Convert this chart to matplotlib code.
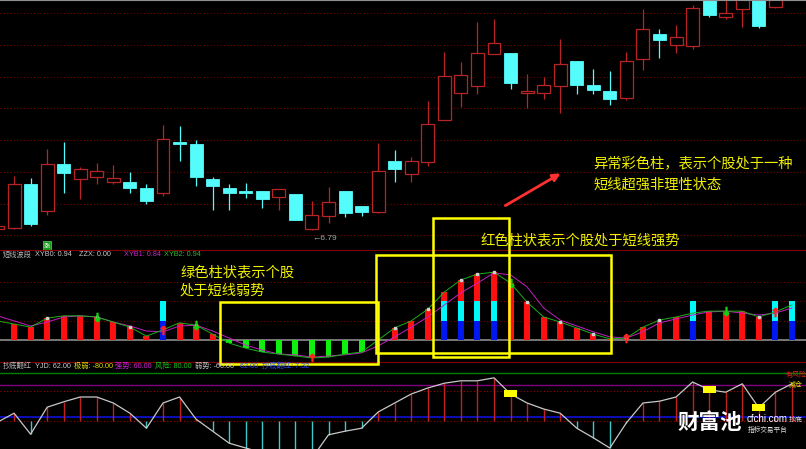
"""短线波段 + 抄底翻红 指标示意图：K线、彩色柱、抄底线，加上黄色说明框。"""

import matplotlib
matplotlib.use("Agg")
import matplotlib.pyplot as plt
from matplotlib.patches import Rectangle, FancyArrowPatch

plt.rcParams["font.family"] = ["Noto Sans CJK SC", "DejaVu Sans"]

W, H = 806, 449          # 输出尺寸 (px)

# ---- K线数据 (每根一组：开、高、低、收)
opens = [6.80, 6.81, 7.25, 6.98, 7.45, 7.30, 7.32, 7.27, 7.27, 7.21,
         7.16, 7.67, 7.65, 7.30, 7.21, 7.18, 7.18, 7.12, 7.15, 6.80,
         6.93, 7.18, 7.03, 6.97, 7.48, 7.35, 7.47, 7.89, 8.16, 8.23,
         8.55, 8.56, 8.16, 8.16, 8.23, 8.48, 8.24, 8.18, 8.11, 8.50,
         8.75, 8.64, 8.63, 9.15, 8.92, 9.00, 9.22, 9.02, 9.30]
highs = [6.83, 7.33, 7.31, 7.60, 7.67, 7.42, 7.46, 7.44, 7.37, 7.25,
         7.84, 7.83, 7.69, 7.32, 7.25, 7.26, 7.18, 7.20, 7.15, 7.08,
         7.22, 7.18, 7.03, 7.66, 7.59, 7.52, 8.08, 8.57, 8.47, 8.87,
         8.90, 8.56, 8.35, 8.32, 8.70, 8.48, 8.40, 8.38, 8.57, 9.00,
         8.80, 8.84, 9.04, 9.20, 9.12, 9.28, 9.30, 9.32, 9.50]
lows = [6.80, 6.80, 6.83, 6.94, 7.16, 7.10, 7.25, 7.25, 7.16, 7.05,
        7.13, 7.48, 7.23, 6.99, 6.99, 7.11, 7.01, 6.99, 6.89, 6.79,
        6.86, 6.92, 6.93, 6.96, 7.27, 7.27, 7.43, 7.89, 8.02, 8.15,
        8.55, 8.20, 8.01, 8.10, 7.96, 8.15, 8.15, 8.04, 8.09, 8.39,
        8.51, 8.56, 8.60, 8.92, 8.90, 8.82, 8.81, 9.01, 9.20]
closes = [6.83, 7.25, 6.85, 7.45, 7.36, 7.40, 7.38, 7.31, 7.21, 7.08,
          7.70, 7.65, 7.32, 7.23, 7.16, 7.16, 7.10, 7.20, 6.89, 6.94,
          7.07, 6.96, 6.97, 7.38, 7.40, 7.48, 7.85, 8.33, 8.34, 8.56,
          8.66, 8.26, 8.18, 8.24, 8.45, 8.24, 8.19, 8.10, 8.48, 8.80,
          8.69, 8.72, 9.01, 8.94, 8.96, 9.20, 8.83, 9.25, 9.45]
price_grid = [6.74, 7.05, 7.37, 7.69, 8.01, 8.32, 8.64, 8.96]
low_label = "←6.79"

# ---- 短线波段：柱 = XYB2 (绿线)，XYB1 (紫线)
xyb2 = [0.49, 0.41, 0.33, 0.56, 0.62, 0.62, 0.59, 0.46, 0.33, 0.10,
        0.26, 0.44, 0.38, 0.15, -0.08, -0.21, -0.31, -0.36, -0.41, -0.46,
        -0.44, -0.36, -0.31, 0.00, 0.31, 0.49, 0.79, 1.23, 1.54, 1.69,
        1.74, 1.46, 0.97, 0.59, 0.46, 0.31, 0.15, 0.03, 0.05, 0.33,
        0.51, 0.59, 0.69, 0.74, 0.74, 0.74, 0.59, 0.72, 0.90]
xyb1 = [0.62, 0.49, 0.36, 0.46, 0.59, 0.62, 0.59, 0.46, 0.36, 0.23,
        0.21, 0.36, 0.38, 0.23, 0.05, -0.13, -0.26, -0.36, -0.38, -0.44,
        -0.41, -0.38, -0.33, -0.15, 0.08, 0.33, 0.59, 0.90, 1.21, 1.46,
        1.72, 1.67, 1.36, 0.82, 0.51, 0.36, 0.21, 0.08, 0.05, 0.21,
        0.44, 0.54, 0.64, 0.72, 0.74, 0.69, 0.64, 0.69, 0.82]
special_idx = [10, 27, 28, 29, 30, 42, 47, 48]     # 异常彩色柱
dot_idx = [3, 6, 8, 12, 24, 26, 28, 29, 30, 32, 34, 36, 38, 40, 46]
down_idx = [6, 12, 31, 44]
up_idx = [10, 19, 38, 47]
wave_grid = [0.5, 1.0, 1.5]
wave_header = [("短线波段", "#b8b8b8"), ("XYB0: 0.94", "#c8c8c8"),
               ("ZZX: 0.00", "#c8c8c8"), ("XYB1: 0.84", "#d020d0"),
               ("XYB2: 0.94", "#20c020")]

# ---- 抄底翻红
yjd = [-2, 13, -22, 23, 32, 40, 40, 30, 13, -12,
       30, 40, 3, -17, -37, -45, -53, -62, -68, -62,
       -23, -17, -12, 15, 30, 45, 55, 63, 67, 67,
       72, 45, 30, 20, 13, -12, -28, -45, -3, 30,
       33, 40, 65, 52, 48, 62, 22, 48, 62]
mark_idx = [31, 43, 46]
risk_level, strong_level, bottom_level = 80, 60, 7.32
yjd_grid = [0, 50]
yjd_header = [("抄底翻红", "#b8b8b8"), ("YJD: 62.00", "#c8c8c8"),
              ("极弱: -80.00", "#e0e000"), ("强势: 60.00", "#d020d0"),
              ("风险: 80.00", "#20c020"), ("弱势: -60.00", "#c8c8c8"),
              ("62.00  抄底翻红: 7.32", "#2848ff")]

RED = "#b82424"
CYAN = "#54fcfc"
YELLOW = "#f0f000"
XLIM = (0.151, 48.852)
SMALL_FONT = ["Liberation Sans", "Noto Sans CJK SC"]


def fx(px):
    return px / W


def fy(py):
    return 1 - py / H


def panel(fig, top, bottom):
    ax = fig.add_axes([0, fy(bottom), 1, (bottom - top) / H])
    ax.set_facecolor("black")
    ax.set_xlim(*XLIM)
    ax.set_xticks([])
    ax.tick_params(length=0, labelleft=False)
    for s in ax.spines.values():
        s.set_visible(False)
    ax.set_axisbelow(True)
    return ax


def draw_candles(ax):
    cw = 0.78
    for i, (o, h, l, c) in enumerate(zip(opens, highs, lows, closes)):
        if c >= o:
            ax.vlines(i, c, h, color=RED, lw=0.9)
            ax.vlines(i, l, o, color=RED, lw=0.9)
            ax.add_patch(Rectangle((i - cw / 2, o), cw, c - o, facecolor="black",
                                   edgecolor=RED, lw=0.9))
        else:
            ax.vlines(i, l, h, color=CYAN, lw=0.9)
            ax.add_patch(Rectangle((i - cw / 2, c), cw, o - c, facecolor=CYAN,
                                   edgecolor=CYAN, lw=0.6))
    i_low = lows.index(min(lows))
    ax.text(i_low, min(lows) - 0.08, low_label, color="#a8a8a8", fontsize=6,
            family=SMALL_FONT, ha="left", va="center")
    ax.text(3, 6.63, "涨", color="white", fontsize=4.5, ha="center", va="center",
            bbox=dict(boxstyle="square,pad=0.15", fc="#1a9a1a", ec="#60d060", lw=0.5))


def draw_wave(ax):
    bw = 0.36
    ax.axhline(0, color="#8c8c8c", lw=1.2, zorder=1)
    for i, v in enumerate(xyb2):
        if i in special_idx:
            ax.bar(i, 0.5, bw, bottom=0, color="#0018f0", zorder=2)
            ax.bar(i, 0.5, bw, bottom=0.5, color="#00f8f8", zorder=2)
            if v > 1.0:
                ax.bar(i, v - 1.0, bw, bottom=1.0, color="#ff1010", zorder=2)
        else:
            ax.bar(i, v, bw, color="#ff1010" if v > 0 else "#10f010", zorder=2)
    x = range(len(xyb2))
    ax.plot(x, xyb1, color="#c020c0", lw=0.7, zorder=3)
    ax.plot(x, xyb2, color="#18b018", lw=0.7, zorder=3)
    ax.plot(dot_idx, [xyb2[i] for i in dot_idx], ls="none", marker="s", ms=2,
            color="#d0d0d0", zorder=4)
    ax.plot(down_idx, [xyb2[i] for i in down_idx], ls="none",
            marker=r"$\downarrow$", ms=6, color="#10d010", zorder=5)
    ax.plot(up_idx, [xyb2[i] for i in up_idx], ls="none",
            marker=r"$\uparrow$", ms=6, color="#ff2020", zorder=5)
    ax.set_ylim((340 - 362) / 39, (340 - 250) / 39)
    ax.set_yticks(wave_grid)
    ax.grid(axis="y", color="#7a0000", ls=(0, (1, 2)), lw=0.8)
    ax.spines["top"].set_visible(True)
    ax.spines["top"].set_color("#800000")


def draw_yjd(ax):
    x = range(len(yjd))
    ax.axhline(risk_level, color="#008000", lw=1.0)
    ax.axhline(strong_level, color="#800080", lw=1.0)
    ax.axhline(bottom_level, color="#1010d8", lw=1.2)
    for i, v in enumerate(yjd):
        ax.vlines(i, 0, v, color="#c02020" if v > 0 else "#40c8c8", lw=1.0)
    ax.plot(x, yjd, color="#c8c8c8", lw=0.9, zorder=3)
    for i in mark_idx:
        ax.bar(i, 12, 0.78, bottom=yjd[i] - 5, color="#ffff00", zorder=4)
    ax.set_ylim((421 - 449) / 0.6, (421 - 362) / 0.6)
    ax.set_yticks(yjd_grid)
    ax.grid(axis="y", color="#a00000", ls=(0, (1, 2)), lw=0.8)
    ax.spines["top"].set_visible(True)
    ax.spines["top"].set_color("#800000")


def header(fig, items, starts, py):
    for (txt, col), px in zip(items, starts):
        fig.text(fx(px), fy(py), txt, color=col, fontsize=5.2, va="center",
                 family=SMALL_FONT)


def main():
    fig = plt.figure(figsize=(W / 100, H / 100), dpi=100, facecolor="black")

    ax1 = panel(fig, 0, 249)
    ax1.set_ylim(6.60, 9.09)
    ax1.set_yticks(price_grid)
    ax1.grid(axis="y", color="#7a0000", ls=(0, (1, 2)), lw=0.8)
    ax1.spines["top"].set_visible(True)
    ax1.spines["top"].set_color("#909090")
    draw_candles(ax1)

    ax2 = panel(fig, 250, 362)
    draw_wave(ax2)

    ax3 = panel(fig, 362, 449)
    draw_yjd(ax3)

    header(fig, wave_header, [3, 35, 79, 124, 164], 255)
    header(fig, yjd_header, [3, 35, 74, 115, 155, 195, 240], 366)

    # 右侧标签 (原图在右边缘被截断)
    side = dict(fontsize=5, va="center", family=SMALL_FONT)
    fig.text(fx(786), fy(375), "有风险", color="#e02020", **side)
    fig.text(fx(789), fy(385), "减仓", color="#e0e000", **side)
    fig.text(fx(789), fy(420), "抄底", color="#e0e0e0", **side)

    # 黄色说明框
    for x0, y0, x1, y1 in [(220, 302, 378, 364), (376, 255, 611, 353),
                           (433, 218, 509, 357)]:
        fig.add_artist(Rectangle((fx(x0), fy(y1)), (x1 - x0) / W, (y1 - y0) / H,
                                 transform=fig.transFigure, fill=False,
                                 ec="#ffff00", lw=1.8))

    note = dict(color=YELLOW, fontsize=10.3, va="center", ha="left")
    fig.text(fx(593), fy(164), "异常彩色柱，表示个股处于一种", **note)
    fig.text(fx(593), fy(185), "短线超强非理性状态", **note)
    fig.text(fx(480), fy(240), "红色柱状表示个股处于短线强势", **note)
    fig.text(fx(180), fy(272), "绿色柱状表示个股", **note)
    fig.text(fx(180), fy(291), "处于短线弱势", **note)

    fig.add_artist(FancyArrowPatch((fx(503), fy(207)), (fx(563), fy(172)),
                                   transform=fig.transFigure, arrowstyle="-|>",
                                   mutation_scale=11, color="#ff3030", lw=2.0))

    # 水印
    fig.text(fx(677), fy(422), "财富池", color="white", fontsize=15.5,
             fontweight="bold", va="center")
    fig.text(fx(747), fy(419), "cfchi.com", color="white", fontsize=7, va="center",
             family=SMALL_FONT)
    fig.text(fx(748), fy(430), "指标交易平台", color="#e0e0e0", fontsize=4.8,
             va="center")

    fig.savefig("out.png", dpi=100, facecolor="black")


if __name__ == "__main__":
    main()
